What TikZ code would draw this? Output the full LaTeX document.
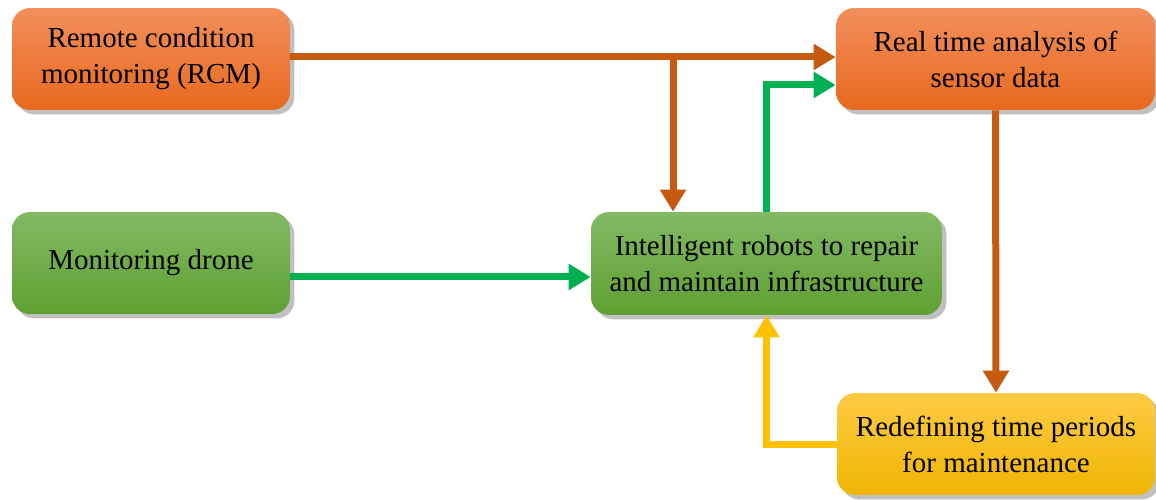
\documentclass[tikz,border=0pt]{standalone}
\usepackage{fontspec}
\setmainfont{Liberation Serif}
\usetikzlibrary{calc}
\usetikzlibrary{positioning}
\usetikzlibrary{shadows}
\usetikzlibrary{arrows.meta}

\definecolor{orangeTop}{HTML}{F28F5C}
\definecolor{orangeBot}{HTML}{E8691D}
\definecolor{greenTop}{HTML}{82B964}
\definecolor{greenBot}{HTML}{5FA032}
\definecolor{yellowTop}{HTML}{FFCB45}
\definecolor{yellowBot}{HTML}{EFB500}
\definecolor{brownArr}{HTML}{C55A11}
\definecolor{greenArr}{HTML}{00B050}
\definecolor{yellowArr}{HTML}{FFC000}

\tikzset{
    box/.style={rounded corners=0.36cm, align=center, font=\fontsize{16.5}{20.5}\selectfont,
        drop shadow={shadow xshift=0.09cm, shadow yshift=-0.09cm, fill=black!45, opacity=0.55}},
    orangebox/.style={box, top color=orangeTop, bottom color=orangeBot},
    greenbox/.style={box, top color=greenTop, bottom color=greenBot},
    yellowbox/.style={box, top color=yellowTop, bottom color=yellowBot},
    flow/.style={line width=0.14cm, -{Triangle[width=0.5cm, length=0.44cm]}}
}

\begin{document}
\begin{tikzpicture}[x=0.02cm, y=-0.02cm]
    \useasboundingbox (0,0) rectangle (1156,500);
    % boxes
    \node[orangebox, minimum width=5.56cm, minimum height=2.04cm] (rcm) at (151,59) {Remote condition\\monitoring (RCM)};
    \node[orangebox, minimum width=6.38cm, minimum height=2.04cm] (rta) at (995.5,59) {Real time analysis of\\sensor data};
    \node[greenbox, minimum width=5.56cm, minimum height=2.04cm] (drone) at (151,263) {Monitoring drone};
    \node[greenbox, minimum width=7.02cm, minimum height=2.06cm] (robots) at (766.5,263.5) {Intelligent robots to repair\\and maintain infrastructure};
    \node[yellowbox, minimum width=6.36cm, minimum height=2.04cm] (redef) at (996,444) {Redefining time periods\\for maintenance};
    % connectors
    \coordinate (split) at (673,57);
    \draw[flow, brownArr] (rcm.east |- split) -- (rta.west |- split);
    \draw[flow, brownArr] (split) -- (split |- robots.north);
    \draw[flow, greenArr] (robots.north) |- ([yshift=-0.52cm]rta.west);
    \draw[flow, brownArr] (rta.south) -- (redef.north);
    \draw[flow, greenArr] ([yshift=-0.28cm]drone.east) -- ([yshift=-0.28cm]drone.east -| robots.west);
    \draw[flow, yellowArr] (redef.west) -| (robots.south);
\end{tikzpicture}
\end{document}
